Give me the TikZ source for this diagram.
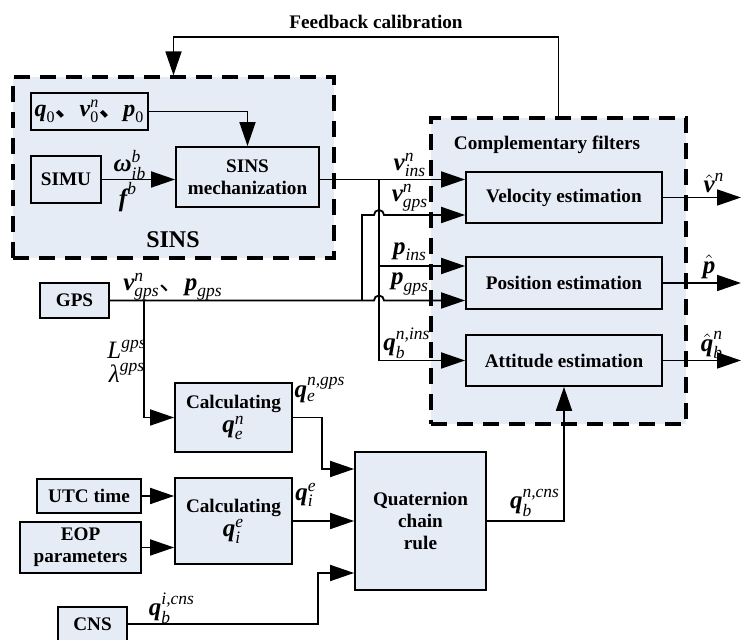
\documentclass[tikz,border=0pt]{standalone}
\usepackage{amsmath}
\usepackage{fontspec}
\setmainfont{Liberation Serif}
\newfontfamily\cjk{Noto Sans CJK SC}
\usetikzlibrary{positioning,arrows.meta,calc}
\definecolor{blkfill}{RGB}{230,236,246}
\newcommand{\bv}[1]{\textnormal{\bfseries\itshape #1}}
\newcommand{\ix}[1]{\textnormal{\itshape #1}}
\newcommand{\dun}{{\cjk 、}}
\newcommand{\lbf}{\fontsize{12.5}{14}\selectfont}

\begin{document}
\begin{tikzpicture}[
  x=0.5pt, y=-0.5pt,
  font=\fontsize{9.6}{11}\selectfont\bfseries,
  blk/.style={draw, line width=0.9pt, fill=blkfill, inner sep=0pt, align=center},
  grp/.style={draw, line width=1.6pt, dash pattern=on 8pt off 5pt, fill=blkfill, inner sep=0pt},
  fl/.style={-{Triangle[length=12pt, width=8pt]}, line width=0.9pt},
  lb/.style={font=\lbf, inner sep=0pt}
]
\useasboundingbox (0,0) rectangle (741,640);

% dashed groups
\node[grp, minimum width=160.5pt, minimum height=90.5pt] (sins) at (173.5,167.5) {};
\node[grp, minimum width=127.5pt, minimum height=153pt] (cf) at (558.5,271) {};
\node[font=\fontsize{12}{14}\selectfont\bfseries] (sinslbl) at (173,240) {SINS};
\node (cflbl) at (547,145) {Complementary filters};
\node (fblbl) at (376,22) {Feedback calibration};

% blocks
\node[blk, minimum width=58.5pt, minimum height=18.5pt] (q0) at (89.5,111.5)
  {\fontsize{12}{14}\selectfont$\bv{q}_{\textnormal{0}}$\dun$\bv{v}_{\textnormal{0}}^{\ix{n}}$\dun$\bv{p}_{\textnormal{0}}$};
\node[blk, minimum width=35pt, minimum height=23.5pt] (simu) at (66,179.5) {SIMU};
\node[blk, minimum width=71.5pt, minimum height=30pt] (mech) at (247.5,177) {SINS\\mechanization};
\node[blk, minimum width=98pt, minimum height=25.5pt] (vel) at (564,197.5) {Velocity estimation};
\node[blk, minimum width=98pt, minimum height=26pt] (pos) at (564,283) {Position estimation};
\node[blk, minimum width=98pt, minimum height=25.5pt] (att) at (564,360.5) {Attitude estimation};
\node[blk, minimum width=34.5pt, minimum height=17.5pt] (gps) at (74.5,300.5) {GPS};
\node[blk, minimum width=58.5pt, minimum height=34.5pt] (cqe) at (233.5,417.5)
  {Calculating\\[1pt]{\lbf$\bv{q}_{\ix{e}}^{\ix{n}}$}};
\node[blk, minimum width=52pt, minimum height=17pt] (utc) at (89,496) {UTC time};
\node[blk, minimum width=60.5pt, minimum height=25.5pt] (eop) at (80.5,547.5) {EOP\\parameters};
\node[blk, minimum width=58.5pt, minimum height=43pt] (cqi) at (233.5,521)
  {Calculating\\[1pt]{\lbf$\bv{q}_{\ix{i}}^{\ix{e}}$}};
\node[blk, minimum width=65.5pt, minimum height=69pt] (qcr) at (420.5,521) {Quaternion\\chain\\rule};
\node[blk, minimum width=34.5pt, minimum height=17pt] (cns) at (92.5,624) {CNS};

\coordinate (br) at (379,0);
\coordinate (gj) at (362,0);
\coordinate (gd) at (144,0);
\coordinate (rt) at (741,0);

% connectors
\draw[fl] (cf.north) -- ++(0,-79) -| (sins.north);
\draw[fl] (q0) -| (mech);
\draw[fl] (simu) -- (simu -| mech.west);
\draw[fl] (mech.east |- simu) -- (vel.west |- simu);
\draw[fl] (br |- simu) |- (att);
\draw[fl] ($(br |- pos)+(0,-17)$) -- ($(pos.west)+(0,-17)$);
\draw[fl] (gps) -- ($(br |- gps)+(-5,0)$) arc[start angle=180, end angle=360, radius=5] -- (pos.west |- gps);
\draw[fl] (gj |- gps) -- ($(gj |- vel)+(0,17.5)$) -- ($(br |- vel)+(-5,17.5)$)
  arc[start angle=180, end angle=360, radius=5] -- ($(vel.west)+(0,17.5)$);
\draw[fl] (gd |- gps) |- (cqe);
\draw[fl] (cqe.east) -- ++(29,0) |- ($(qcr.west)+(0,-52)$);
\draw[fl] (utc) -- (utc -| cqi.west);
\draw[fl] (eop) -- (eop -| cqi.west);
\draw[fl] (cqi) -- (qcr);
\draw[fl] (cns.east) -- ++(190,0) |- ($(qcr.west)+(0,52)$);
\draw[fl] (qcr) -| (att);
\foreach \b in {vel, pos, att} \draw[fl] (\b) -- (\b -| rt);

% labels
\node[lb] (lw) at (130,165) {$\bv{ω}_{\ix{ib}}^{\ix{b}}$};
\node[lb] (lf) at (128,197) {$\bv{f}^{\ix{b}}$};
\node[lb] (lvi) at (410,165) {$\bv{v}_{\ix{ins}}^{\ix{n}}$};
\node[lb] (lvg) at (410,198) {$\bv{v}_{\ix{gps}}^{\ix{n}}$};
\node[lb] (lpi) at (410,252) {$\bv{p}_{\ix{ins}}$};
\node[lb] (lpg) at (410,284) {$\bv{p}_{\ix{gps}}$};
\node[lb] (lqi) at (407,343) {$\bv{q}_{\ix{b}}^{\ix{n,ins}}$};
\node[lb] (lgps) at (173,287) {$\bv{v}_{\ix{gps}}^{\ix{n}}$\dun$\bv{p}_{\ix{gps}}$};
\node[lb] (lL) at (127,349) {$\ix{L}^{\ix{gps}}$};
\node[lb] (llam) at (127,373) {$\ix{λ}^{\ix{gps}}$};
\node[lb] (lqe) at (320,390) {$\bv{q}_{\ix{e}}^{\ix{n,gps}}$};
\node[lb] (lqie) at (306,495) {$\bv{q}_{\ix{i}}^{\ix{e}}$};
\node[lb] (lqcns) at (172,608) {$\bv{q}_{\ix{b}}^{\ix{i,cns}}$};
\node[lb] (lqncns) at (535,503) {$\bv{q}_{\ix{b}}^{\ix{n,cns}}$};
\node[lb] (lvh) at (714,183) {$\hat{\bv{v}}^{\ix{n}}$};
\node[lb] (lph) at (709,267) {$\hat{\bv{p}}$};
\node[lb] (lqh) at (712,345) {$\hat{\bv{q}}_{\ix{b}}^{\ix{n}}$};
\end{tikzpicture}
\end{document}
